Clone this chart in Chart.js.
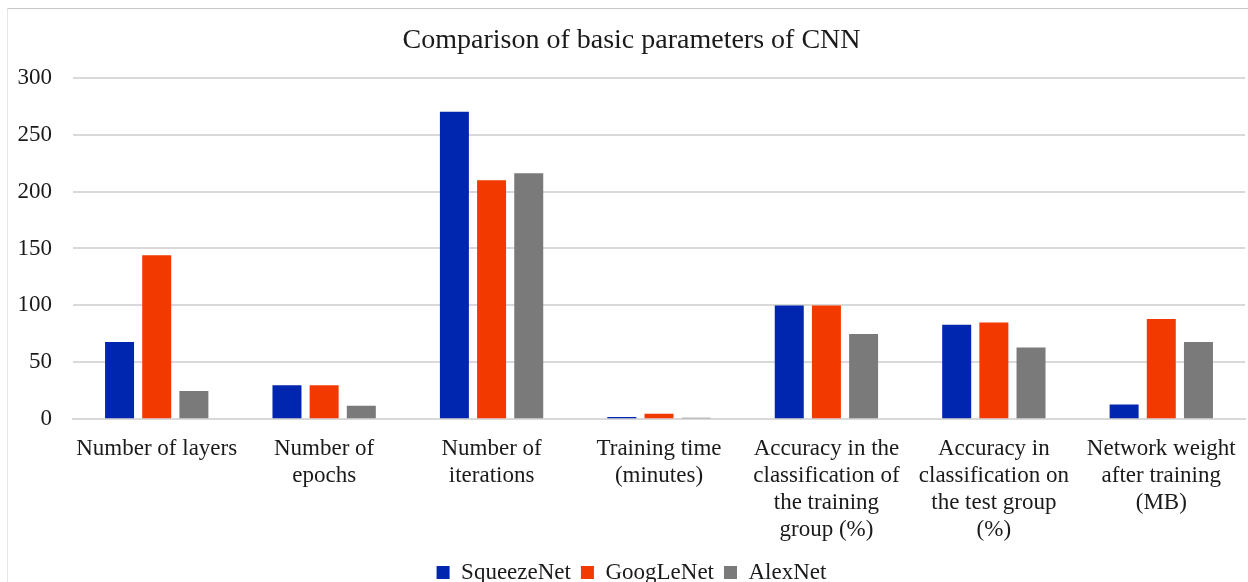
<!DOCTYPE html>
<html>
<head>
<meta charset="utf-8">
<script src="https://cdn.jsdelivr.net/npm/chart.js@4/dist/chart.umd.min.js"></script>
<style>
  html, body { margin: 0; padding: 0; background: #ffffff; }
  #wrap { width: 1248px; height: 582px; position: relative; }
  #moldura { position: absolute; left: 7px; top: 8px; right: 0; bottom: 0;
             border-top: 1px solid #c8c8c8; border-left: 1px solid #e6e6e6; pointer-events: none; }
</style>
</head>
<body>
<div id="wrap"><canvas id="grafico"></canvas><div id="moldura"></div></div>
<script>
const categorias = [
  'Number of layers',
  ['Number of', 'epochs'],
  ['Number of', 'iterations'],
  ['Training time', '(minutes)'],
  ['Accuracy in the', 'classification of', 'the training', 'group (%)'],
  ['Accuracy in', 'classification on', 'the test group', '(%)'],
  ['Network weight', 'after training', '(MB)']
];
const squeezeNet = [68, 30, 270, 2, 100, 83, 13];
const googLeNet = [144, 30, 210, 5, 100, 85, 88];
const alexNet = [25, 12, 216, 1.5, 75, 63, 68];
const yTicks = [0, 50, 100, 150, 200, 250, 300];

const fonte = "'Liberation Serif', 'Times New Roman', serif";

function criarSerie(label, data, cor) {
  return {
    label: label,
    data: data,
    backgroundColor: cor,
    borderWidth: 0,
    categoryPercentage: 0.666,
    barPercentage: 0.78
  };
}

const ctx = document.getElementById('grafico').getContext('2d');
new Chart(ctx, {
  type: 'bar',
  data: {
    labels: categorias,
    datasets: [
      criarSerie('SqueezeNet', squeezeNet, '#0026b0'),
      criarSerie('GoogLeNet', googLeNet, '#f23a00'),
      criarSerie('AlexNet', alexNet, '#7a7a7a')
    ]
  },
  options: {
    responsive: true,
    maintainAspectRatio: false,
    animation: false,
    layout: {
      padding: { top: 24, right: 3, bottom: -12, left: 18 }
    },
    plugins: {
      title: {
        display: true,
        text: 'Comparison of basic parameters of CNN',
        color: '#1a1a1a',
        font: { family: fonte, size: 28, weight: 'normal' },
        padding: { top: 0, bottom: 20 }
      },
      legend: {
        position: 'bottom',
        labels: {
          color: '#1a1a1a',
          font: { family: fonte, size: 23 },
          boxWidth: 13,
          boxHeight: 13,
          padding: 10
        }
      },
      tooltip: { enabled: false }
    },
    scales: {
      x: {
        grid: { display: false },
        border: { display: true, color: '#d9d9d9', width: 2 },
        ticks: {
          color: '#1a1a1a',
          font: { family: fonte, size: 23, lineHeight: 1.17 },
          maxRotation: 0,
          minRotation: 0,
          autoSkip: false,
          padding: 8
        }
      },
      y: {
        min: 0,
        max: 300,
        afterBuildTicks: axis => { axis.ticks = yTicks.map(v => ({ value: v })); },
        afterFit: escala => { escala.width = 55; },
        border: { display: false },
        grid: { color: '#d9d9d9', lineWidth: 2, drawTicks: false },
        ticks: {
          color: '#1a1a1a',
          font: { family: fonte, size: 23 },
          padding: 21
        }
      }
    }
  }
});
</script>
</body>
</html>
